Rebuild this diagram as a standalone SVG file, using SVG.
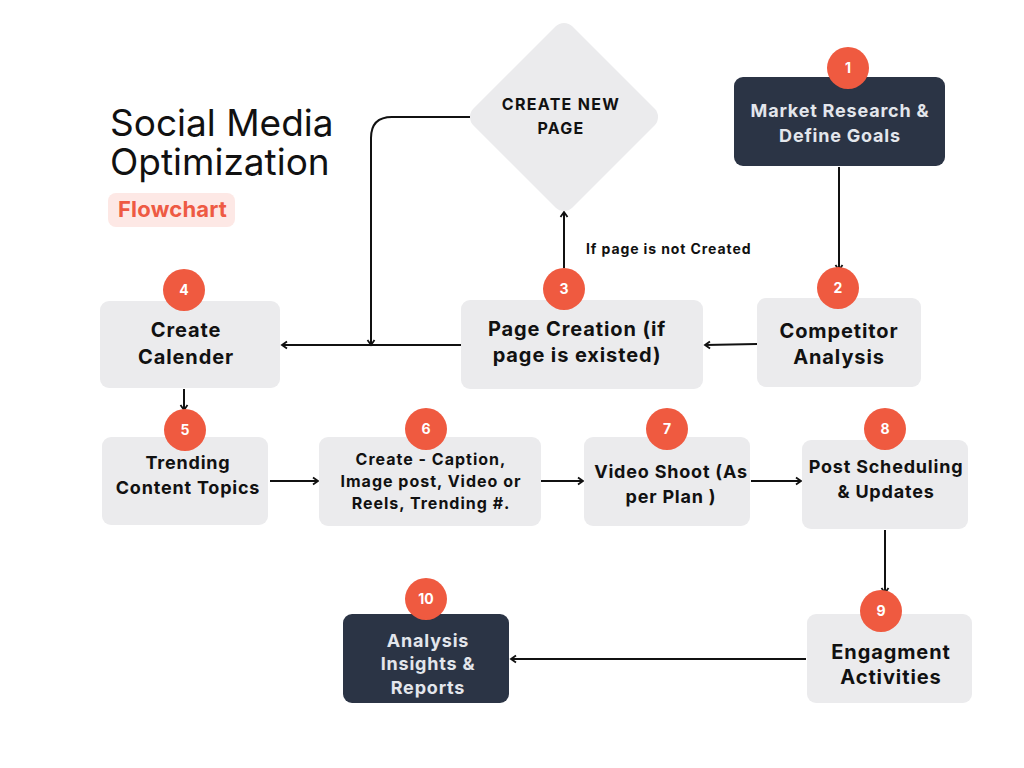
<svg xmlns="http://www.w3.org/2000/svg" width="1024" height="768" viewBox="0 0 1024 768">
<defs>
<marker id="ah" markerWidth="10" markerHeight="10" refX="8" refY="5" orient="auto" markerUnits="userSpaceOnUse">
<polyline points="3,1.5 8,5 3,8.5" fill="none" stroke="#111" stroke-width="1.8"/>
</marker>
<style>
.box{fill:#ebebed}
.dark{fill:#2b3445}
.badge{fill:#ef5a40}
.bn{font-family:Inter,"Liberation Sans",sans-serif;font-weight:700;font-size:14px;fill:#fff;text-anchor:middle}
.t{font-family:Inter,"Liberation Sans",sans-serif;font-weight:700;fill:#111;text-anchor:middle}
.tl{font-family:Inter,"Liberation Sans",sans-serif;font-weight:700;fill:#e3e6ec;text-anchor:middle}
.s20{font-size:20px;letter-spacing:0.9px}
.s18{font-size:18px;letter-spacing:0.8px}
.s16{font-size:16px;letter-spacing:1px}
.c{fill:none;stroke:#111;stroke-width:2;marker-end:url(#ah)}
</style>
</defs>
<rect width="1024" height="768" fill="#fff"/>
<g id="title">
<text font-family="Inter,'Liberation Sans',sans-serif" font-size="37" fill="#111"><tspan x="110" y="136">Social Media</tspan><tspan x="110" y="175">Optimization</tspan></text>
<rect x="108" y="193" width="127" height="34" rx="8" fill="#fde8e5"/>
<text x="118" y="217" font-family="Inter,'Liberation Sans',sans-serif" font-size="22" font-weight="700" fill="#ee5a43" letter-spacing="0.2">Flowchart</text>
</g>
<g id="connectors">
<path class="c" d="M839,167 V270"/>
<path class="c" d="M757,344 L705,345"/>
<path class="c" d="M564,268 V212"/>
<path class="c" d="M470,117 H392 Q371,117 371,138 V345"/>
<path class="c" d="M461,345 H282"/>
<path class="c" d="M184,389 V410"/>
<path class="c" d="M270,481 H318"/>
<path class="c" d="M541,481 H583"/>
<path class="c" d="M751,481 H801"/>
<path class="c" d="M885,530 V593"/>
<path class="c" d="M806,659 H511"/>
<text x="586" y="254" font-family="Inter,'Liberation Sans',sans-serif" font-size="14" font-weight="700" fill="#111" letter-spacing="0.9">If page is not Created</text>
</g>
<g id="n-diamond">
<rect x="494" y="47" width="140" height="140" rx="12" transform="rotate(45 564 117)" class="box"/>
<text class="t" x="561" y="110" font-size="16" letter-spacing="1.3">CREATE NEW</text>
<text class="t" x="561" y="134" font-size="16" letter-spacing="1.3">PAGE</text>
</g>
<g id="n1">
<rect x="734" y="77" width="211" height="89" rx="9" class="dark"/>
<circle cx="848" cy="68" r="21" class="badge"/>
<text class="bn" x="848" y="73">1</text>
<text class="tl s18" x="840" y="117">Market Research &amp;</text>
<text class="tl s18" x="840" y="142">Define Goals</text>
</g>
<g id="n2">
<rect x="757" y="298" width="164" height="89" rx="9" class="box"/>
<circle cx="838" cy="288" r="21" class="badge"/>
<text class="bn" x="838" y="293">2</text>
<text class="t s20" x="839" y="338">Competitor</text>
<text class="t s20" x="839" y="364">Analysis</text>
</g>
<g id="n3">
<rect x="461" y="300" width="242" height="89" rx="9" class="box"/>
<circle cx="564" cy="289" r="21" class="badge"/>
<text class="bn" x="564" y="294">3</text>
<text class="t s20" x="577" y="336">Page Creation (if</text>
<text class="t s20" x="577" y="362">page is existed)</text>
</g>
<g id="n4">
<rect x="100" y="301" width="180" height="87" rx="9" class="box"/>
<circle cx="184" cy="290" r="21" class="badge"/>
<text class="bn" x="184" y="295">4</text>
<text class="t s20" x="186" y="337">Create</text>
<text class="t s20" x="186" y="364">Calender</text>
</g>
<g id="n5">
<rect x="102" y="437" width="166" height="88" rx="9" class="box"/>
<circle cx="185" cy="430" r="21" class="badge"/>
<text class="bn" x="185" y="435">5</text>
<text class="t s18" x="188" y="469">Trending</text>
<text class="t s18" x="188" y="494">Content Topics</text>
</g>
<g id="n6">
<rect x="319" y="437" width="222" height="89" rx="9" class="box"/>
<circle cx="426" cy="429" r="21" class="badge"/>
<text class="bn" x="426" y="434">6</text>
<text class="t s16" x="431" y="465">Create - Caption,</text>
<text class="t s16" x="431" y="487">Image post, Video or</text>
<text class="t s16" x="431" y="509">Reels, Trending #.</text>
</g>
<g id="n7">
<rect x="584" y="437" width="166" height="89" rx="9" class="box"/>
<circle cx="667" cy="429" r="21" class="badge"/>
<text class="bn" x="667" y="434">7</text>
<text class="t s18" x="671" y="478">Video Shoot (As</text>
<text class="t s18" x="671" y="503">per Plan )</text>
</g>
<g id="n8">
<rect x="802" y="440" width="166" height="89" rx="9" class="box"/>
<circle cx="885" cy="429" r="21" class="badge"/>
<text class="bn" x="885" y="434">8</text>
<text class="t s18" x="886" y="473">Post Scheduling</text>
<text class="t s18" x="886" y="498">&amp; Updates</text>
</g>
<g id="n9">
<rect x="807" y="614" width="165" height="89" rx="9" class="box"/>
<circle cx="881" cy="611" r="21" class="badge"/>
<text class="bn" x="881" y="616">9</text>
<text class="t s20" x="891" y="659">Engagment</text>
<text class="t s20" x="891" y="684">Activities</text>
</g>
<g id="n10">
<rect x="343" y="614" width="166" height="89" rx="9" class="dark"/>
<circle cx="426" cy="599" r="21" class="badge"/>
<text class="bn" x="426" y="604">10</text>
<text class="tl s18" x="428" y="647">Analysis</text>
<text class="tl s18" x="428" y="670">Insights &amp;</text>
<text class="tl s18" x="428" y="694">Reports</text>
</g>
</svg>
